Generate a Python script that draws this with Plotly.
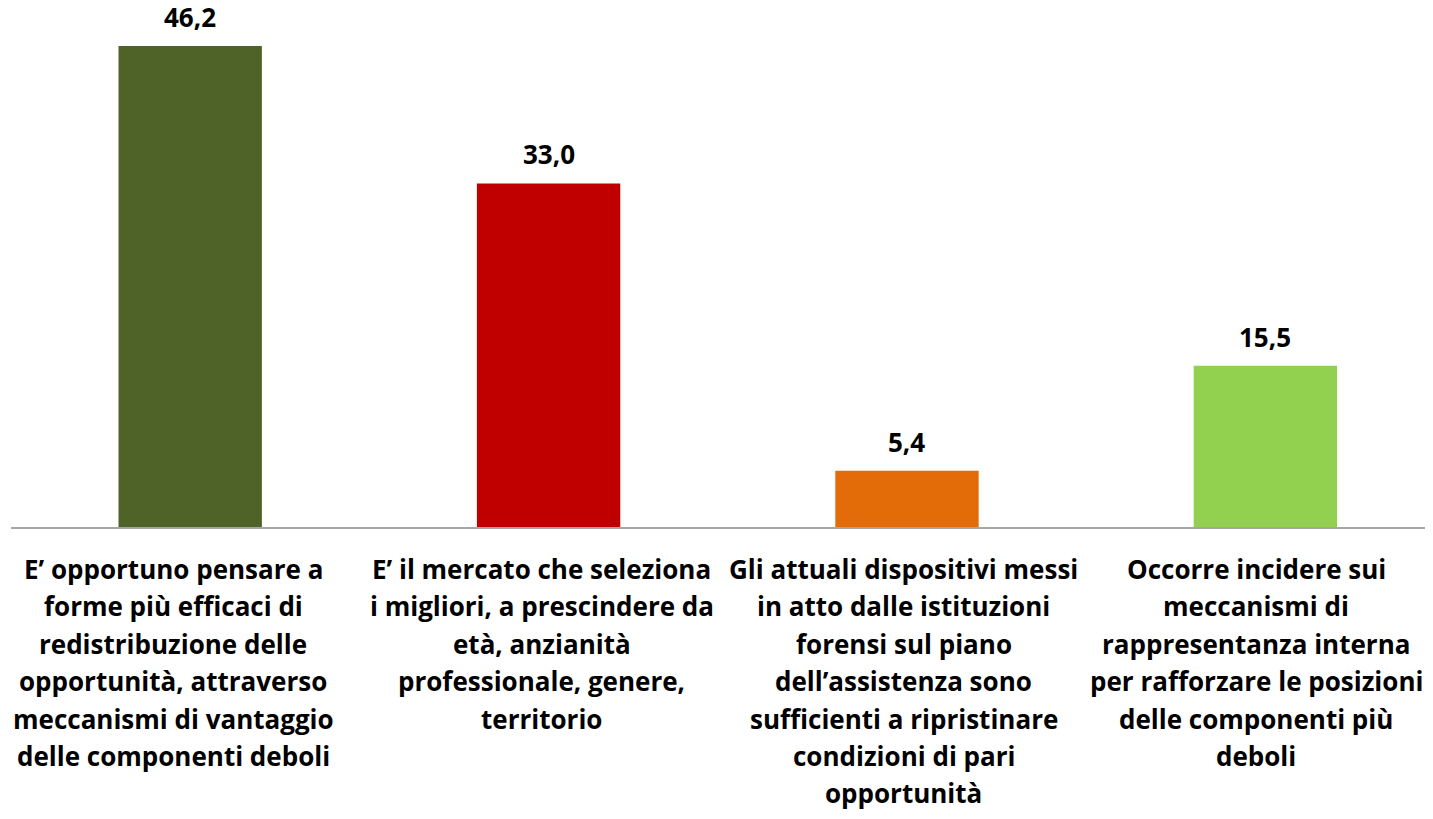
import plotly.graph_objects as go

categories = [
    "E’ opportuno pensare a<br>forme più efficaci di<br>redistribuzione delle<br>opportunità, attraverso<br>meccanismi di vantaggio<br>delle componenti deboli",
    "E’ il mercato che seleziona<br>i migliori, a prescindere da<br>età, anzianità<br>professionale, genere,<br>territorio",
    "Gli attuali dispositivi messi<br>in atto dalle istituzioni<br>forensi sul piano<br>dell’assistenza sono<br>sufficienti a ripristinare<br>condizioni di pari<br>opportunità",
    "Occorre incidere sui<br>meccanismi di<br>rappresentanza interna<br>per rafforzare le posizioni<br>delle componenti più<br>deboli",
]
values = [46.2, 33.0, 5.4, 15.5]
colors = ["#4F6228", "#C00000", "#E36C09", "#92D050"]

# style: horizontal nudge of each category label block (px), line spacing
label_xshift = [-17, -7, -3, -9]
LINE_GAP = 37.4
FIRST_LINE = 42

FONT = "Open Sans"
LABEL_SIZE = 26

fig = go.Figure()
fig.add_trace(go.Bar(
    x=categories, y=values,
    marker=dict(color=colors, line=dict(width=0)),
    hoverinfo="skip",
))

for c, v in zip(categories, values):
    fig.add_annotation(
        x=c, y=v, text="<b>" + f"{v:.1f}".replace(".", ",") + "</b>",
        showarrow=False, yanchor="bottom", yshift=9,
        font=dict(family=FONT, size=26, color="black"),
    )

for c, dx in zip(categories, label_xshift):
    for j, line in enumerate(c.split("<br>")):
        fig.add_annotation(
            x=c, y=0, yref="y", text="<b>" + line + "</b>",
            showarrow=False, xanchor="center", yanchor="middle",
            xshift=dx, yshift=-(FIRST_LINE + LINE_GAP * j),
            font=dict(family=FONT, size=LABEL_SIZE, color="black"),
        )

fig.update_layout(
    width=1433, height=819,
    margin=dict(l=3, r=0, t=0, b=300),
    paper_bgcolor="white", plot_bgcolor="white",
    bargap=0.6,
    showlegend=False,
    font=dict(family=FONT, size=26, color="black"),
)
fig.update_xaxes(
    range=[-0.5, 3.49],
    showline=True, linecolor="#A6A6A6", linewidth=2,
    ticks="", showgrid=False, zeroline=False,
    showticklabels=False,
    fixedrange=True,
)
fig.update_yaxes(
    range=[0, 49.85], visible=False, showgrid=False, zeroline=False,
)

fig.write_html("out.html")
